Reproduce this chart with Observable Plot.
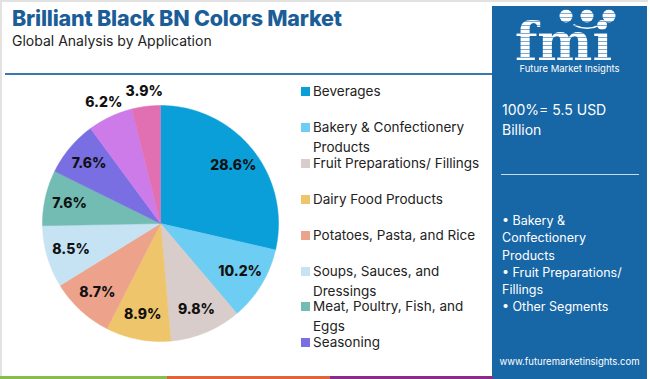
<!DOCTYPE html>
<html>
<head>
<meta charset="utf-8">
<script src="https://cdn.jsdelivr.net/npm/d3@7"></script>
<script src="https://cdn.jsdelivr.net/npm/@observablehq/plot@0.6"></script>
<style>
  html, body { margin: 0; padding: 0; }
  body { width: 650px; height: 379px; position: relative; overflow: hidden; background: #fff; font-family: Inter, "Open Sans", sans-serif; }
  #frame { position: absolute; left: 0; top: 0; width: 648px; height: 379px; border-left: 2px solid #e2e2e2; border-top: 2px solid #e2e2e2; box-sizing: border-box; }
  #title { position: absolute; left: 12px; top: 5px; font-size: 21.5px; font-weight: 800; color: #1b5d97; letter-spacing: -0.2px; white-space: nowrap; }
  #subtitle { position: absolute; left: 12px; top: 32px; font-size: 14px; color: #222; white-space: nowrap; }
  #hline { position: absolute; left: 5px; top: 73px; width: 488px; height: 2px; background: #3a78ad; }
  #chart { position: absolute; left: 0; top: 80px; }
  #legend { position: absolute; left: 301px; top: 81px; width: 190px; }
  .li { position: absolute; left: 0; font-size: 13.5px; color: #222; line-height: 20px; width: 188px; }
  .sw { position: absolute; left: 0; top: 6px; width: 9px; height: 9px; }
  .lt { position: absolute; left: 12px; top: 0; width: 180px; }
  #panel { position: absolute; left: 492px; top: 6px; width: 155px; height: 373px; background: #1766a6; color: #fff; }
  #logo { position: absolute; left: 0; top: 0; }
  #brand { position: absolute; left: 0; width: 155px; top: 57px; text-align: center; font-size: 9.5px; color: #fff; }
  #total { position: absolute; left: 10px; top: 94px; font-size: 14px; line-height: 20px; }
  #div { position: absolute; left: 9px; top: 168px; width: 138px; height: 1px; background: #c9dcec; }
  #segs { position: absolute; left: 10px; top: 206px; font-size: 12.5px; line-height: 17.3px; }
  #url { position: absolute; left: 0; width: 155px; top: 350px; text-align: center; font-size: 9.5px; }
  .bar { position: absolute; top: 376px; height: 3px; }
</style>
</head>
<body>
<div id="frame"></div>
<div id="title">Brilliant Black BN Colors Market</div>
<div id="subtitle">Global Analysis by Application</div>
<div id="hline"></div>
<div id="chart"></div>
<div id="legend"></div>
<div id="panel">
  <canvas id="logo" width="155" height="56"></canvas>
  <div id="brand">Future Market Insights</div>
  <div id="total">100%= 5.5 USD<br>Billion</div>
  <div id="div"></div>
  <div id="segs">• Bakery &amp;<br>Confectionery<br>Products<br>• Fruit Preparations/<br>Fillings<br>• Other Segments</div>
  <div id="url">www.futuremarketinsights.com</div>
</div>
<div class="bar" style="left:0;width:167px;background:#86bd4d"></div>
<div class="bar" style="left:167px;width:163px;background:#e0643a"></div>
<div class="bar" style="left:330px;width:163px;background:#8b2d88"></div>

<script>
// ---- data ----
const categories = [
  "Beverages",
  "Bakery & Confectionery Products",
  "Fruit Preparations/ Fillings",
  "Dairy Food Products",
  "Potatoes, Pasta, and Rice",
  "Soups, Sauces, and Dressings",
  "Meat, Poultry, Fish, and Eggs",
  "Seasoning",
  "Other A",
  "Other B"
];
const shares = [28.6, 10.2, 9.8, 8.9, 8.7, 8.5, 7.6, 7.6, 6.2, 3.9];
const colors = ["#0a9fd9", "#6dcdf2", "#d8cdca", "#efc56c", "#eda28c", "#c5e3f3", "#72bcb4", "#7a6ee3", "#cc7be8", "#e070b2"];
const legendCount = 8;

// ---- logo (image-like, drawn on canvas) ----
(function () {
  const ctx = document.getElementById("logo").getContext("2d");
  ctx.fillStyle = "#fff";
  ctx.font = "bold 52px 'DejaVu Serif', serif";
  ctx.textBaseline = "alphabetic";
  ctx.fillText("fmi", 23, 54);
  [[74, 10], [95, 10], [117, 10]].forEach(([x, y]) => { ctx.beginPath(); ctx.arc(x, y, 6.5, 0, 2 * Math.PI); ctx.fill(); });
  ctx.strokeStyle = "#fff"; ctx.lineWidth = 1.5;
  ctx.beginPath(); ctx.arc(95, -8, 30, 0.35 * Math.PI, 0.65 * Math.PI); ctx.stroke();
  ctx.globalCompositeOperation = "source-atop";
  ctx.fillStyle = "#7faad0";
  for (let y = 3; y < 56; y += 4) ctx.fillRect(0, y, 155, 1);
})();

// ---- pie geometry via d3.pie ----
const arcs = d3.pie().sort(null).startAngle(0).endAngle(2 * Math.PI)(shares);
const slicePts = [];
arcs.forEach((a, i) => {
  const name = categories[i];
  slicePts.push({name, x: 0, y: 0});
  const n = Math.max(2, Math.ceil((a.endAngle - a.startAngle) / 0.01));
  for (let k = 0; k <= n; k++) {
    const t = a.startAngle + (a.endAngle - a.startAngle) * k / n;
    slicePts.push({name, x: Math.sin(t), y: Math.cos(t)});
  }
  slicePts.push({name, x: 0, y: 0});
});
const labels = arcs.map((a, i) => {
  const m = (a.startAngle + a.endAngle) / 2;
  const r = shares[i] < 7 ? 1.13 : 0.79;
  return {name: categories[i], label: shares[i].toFixed(1) + "%", x: r * Math.sin(m), y: r * Math.cos(m)};
});

const R = 118, cx = 160, cy = 143;
const chart = Plot.plot({
  width: 300,
  height: 290,
  margin: 0,
  x: {domain: [-1, 1], range: [cx - R, cx + R], axis: null},
  y: {domain: [-1, 1], range: [cy + R, cy - R], axis: null},
  color: {type: "ordinal", domain: categories, range: colors},
  style: {background: "transparent", overflow: "visible"},
  marks: [
    Plot.line(slicePts, {x: "x", y: "y", z: "name", fill: "name", stroke: "name", strokeWidth: 0.5, curve: "linear"}),
    Plot.text(labels, {x: "x", y: "y", text: "label", fill: "#111", fontSize: 14, fontWeight: 800, fontFamily: "Inter, sans-serif"})
  ]
});
document.getElementById("chart").appendChild(chart);

// ---- legend ----
const leg = document.getElementById("legend");
categories.slice(0, legendCount).forEach((c, i) => {
  const d = document.createElement("div");
  d.className = "li";
  d.style.top = (i * 35.9) + "px";
  const s = document.createElement("div");
  s.className = "sw";
  s.style.background = colors[i];
  const t = document.createElement("div");
  t.className = "lt";
  t.textContent = c;
  d.appendChild(s); d.appendChild(t);
  leg.appendChild(d);
});
</script>
</body>
</html>
